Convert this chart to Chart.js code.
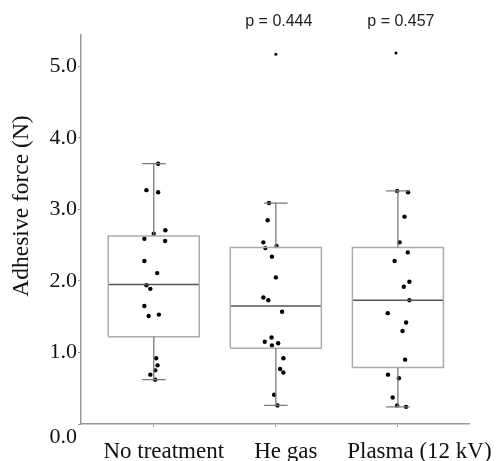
<!DOCTYPE html>
<html>
<head>
<meta charset="utf-8">
<script src="https://cdn.jsdelivr.net/npm/chart.js@4/dist/chart.umd.min.js"></script>
<style>
  html, body { margin: 0; padding: 0; background: #fff; }
  #wrap { width: 497px; height: 461px; position: relative; }
</style>
</head>
<body>
<div id="wrap"><canvas id="c"></canvas></div>
<script>
// ---- data ----
const categories = ['No treatment', 'He gas', 'Plasma (12 kV)'];
const categoryPositions = [1, 2, 3];

const lowerWhisker = [0.62, 0.26, 0.24];
const q1Values     = [1.22, 1.06, 0.79];
const medianValues = [1.95, 1.65, 1.73];
const q3Values     = [2.63, 2.47, 2.47];
const upperWhisker = [3.64, 3.09, 3.26];

const noTreatmentValues = [3.64, 3.27, 3.24, 2.71, 2.66, 2.59, 2.56, 2.28, 2.11, 1.94, 1.89, 1.65, 1.51, 1.53, 0.92, 0.82, 0.75, 0.69, 0.62];
const noTreatmentJitter = [0.036, -0.06, 0.036, 0.095, 0, -0.077, 0.093, -0.077, 0.028, -0.06, -0.028, -0.077, -0.042, 0.042, 0.02, 0.031, 0.012, -0.028, 0.012];

const heGasValues = [3.09, 2.85, 2.54, 2.46, 2.49, 2.34, 2.05, 1.77, 1.73, 1.57, 1.21, 1.15, 1.10, 1.13, 0.92, 0.77, 0.72, 0.41, 0.26];
const heGasJitter = [-0.056, -0.067, -0.102, -0.086, 0.006, -0.032, 0, -0.102, -0.062, 0.051, -0.035, -0.091, -0.032, 0.019, 0.062, 0.035, 0.062, -0.014, 0.014];

const plasmaValues = [3.26, 3.24, 2.90, 2.54, 2.40, 2.28, 1.99, 1.92, 1.73, 1.55, 1.42, 1.30, 0.90, 0.69, 0.64, 0.37, 0.26, 0.24];
const plasmaJitter = [-0.006, 0.083, 0.054, 0.014, 0.081, -0.027, 0.094, 0.048, 0.094, -0.083, 0.067, 0.038, 0.059, -0.081, 0.008, -0.043, -0.006, 0.067];

const outlierValues = [null, 5.17, 5.19];
const outlierJitter = [0, 0, -0.016];

const pLabels = [null, 'p = 0.444', 'p = 0.457'];

const yTickValues = [0, 1, 2, 3, 4, 5];
const yAxisTitle = 'Adhesive force (N)';

// ---- build datasets ----
const BOX_HALF = 0.373;
const CAP_HALF = 0.097;
const gap = (c) => ({ x: c, y: null });

const boxData = [], whiskerData = [], medianData = [];
categoryPositions.forEach((c, i) => {
  boxData.push({x: c - BOX_HALF, y: q1Values[i]}, {x: c + BOX_HALF, y: q1Values[i]},
               {x: c + BOX_HALF, y: q3Values[i]}, {x: c - BOX_HALF, y: q3Values[i]},
               {x: c - BOX_HALF, y: q1Values[i]}, gap(c));
  whiskerData.push({x: c, y: q3Values[i]}, {x: c, y: upperWhisker[i]}, gap(c),
                   {x: c, y: q1Values[i]}, {x: c, y: lowerWhisker[i]}, gap(c),
                   {x: c - CAP_HALF, y: upperWhisker[i]}, {x: c + CAP_HALF, y: upperWhisker[i]}, gap(c),
                   {x: c - CAP_HALF, y: lowerWhisker[i]}, {x: c + CAP_HALF, y: lowerWhisker[i]}, gap(c));
  medianData.push({x: c - BOX_HALF, y: medianValues[i]}, {x: c + BOX_HALF, y: medianValues[i]}, gap(c));
});

const groups = [[noTreatmentValues, noTreatmentJitter], [heGasValues, heGasJitter], [plasmaValues, plasmaJitter]];
const pointData = [];
groups.forEach(([vals, jit], i) => {
  vals.forEach((v, k) => pointData.push({x: categoryPositions[i] + jit[k], y: v}));
});
const outlierData = [];
outlierValues.forEach((v, i) => { if (v !== null) outlierData.push({x: categoryPositions[i] + outlierJitter[i], y: v}); });

const lineStyle = { type: 'line', pointRadius: 0, fill: false, tension: 0, spanGaps: false, borderCapStyle: 'butt' };

const pLabelPlugin = {
  id: 'pLabels',
  afterDraw(chart) {
    const {ctx, scales: {x}, chartArea} = chart;
    ctx.save();
    ctx.font = '16px "Liberation Sans", Arial, sans-serif';
    ctx.fillStyle = '#222';
    ctx.textAlign = 'center';
    ctx.textBaseline = 'middle';
    pLabels.forEach((t, i) => {
      if (t) ctx.fillText(t, x.getPixelForValue(categoryPositions[i]) + 3, chartArea.top - 13);
    });
    ctx.restore();
  }
};

const serif = '"Liberation Serif", "Times New Roman", serif';

new Chart(document.getElementById('c'), {
  type: 'scatter',
  data: {
    datasets: [
      Object.assign({}, lineStyle, { data: whiskerData, borderColor: '#7a7a7a', borderWidth: 1.3 }),
      Object.assign({}, lineStyle, { data: boxData, borderColor: '#ababab', borderWidth: 1.5, borderJoinStyle: 'miter' }),
      Object.assign({}, lineStyle, { data: medianData, borderColor: '#555555', borderWidth: 1.6 }),
      { type: 'scatter', data: pointData, backgroundColor: '#000', borderWidth: 0, pointRadius: 2.2 },
      { type: 'scatter', data: outlierData, backgroundColor: '#000', borderWidth: 0, pointRadius: 1.5 }
    ]
  },
  options: {
    responsive: true,
    maintainAspectRatio: false,
    animation: false,
    layout: { padding: { left: 0, top: 35, right: 24, bottom: 0 } },
    plugins: { legend: { display: false }, tooltip: { enabled: false } },
    scales: {
      x: {
        type: 'linear',
        min: 0.404,
        max: 3.584,
        offset: false,
        afterBuildTicks: (s) => { s.ticks = categoryPositions.map(v => ({ value: v })); },
        afterFit: (s) => { s.height = 37; },
        border: { display: true, color: '#999', width: 1.5 },
        grid: { display: true, drawOnChartArea: false, drawTicks: true, tickLength: 3, color: '#999', offset: false },
        ticks: {
          autoSkip: false,
          maxRotation: 0,
          padding: 11,
          labelOffset: 10,
          color: '#111',
          font: { family: serif, size: 23 },
          callback: (v) => {
            const i = categoryPositions.indexOf(v);
            if (i < 0) return '';
            return i === 2 ? '    ' + categories[i] : categories[i];
          }
        }
      },
      y: {
        type: 'linear',
        min: 0,
        max: 5.44,
        afterBuildTicks: (s) => { s.ticks = yTickValues.map(v => ({ value: v })); },
        afterFit: (s) => { s.width = 81; },
        border: { display: true, color: '#999', width: 1.5 },
        grid: { display: true, drawOnChartArea: false, drawTicks: true, tickLength: 3, color: '#999' },
        ticks: {
          padding: 1,
          color: '#111',
          font: { family: serif, size: 22 },
          callback: (v) => v === 0 ? ['', v.toFixed(1)] : v.toFixed(1)
        },
        title: {
          display: true,
          text: '        ' + yAxisTitle,
          color: '#111',
          font: { family: serif, size: 23.5 },
          padding: { top: 8, bottom: 0 }
        }
      }
    }
  },
  plugins: [pLabelPlugin]
});
</script>
</body>
</html>
